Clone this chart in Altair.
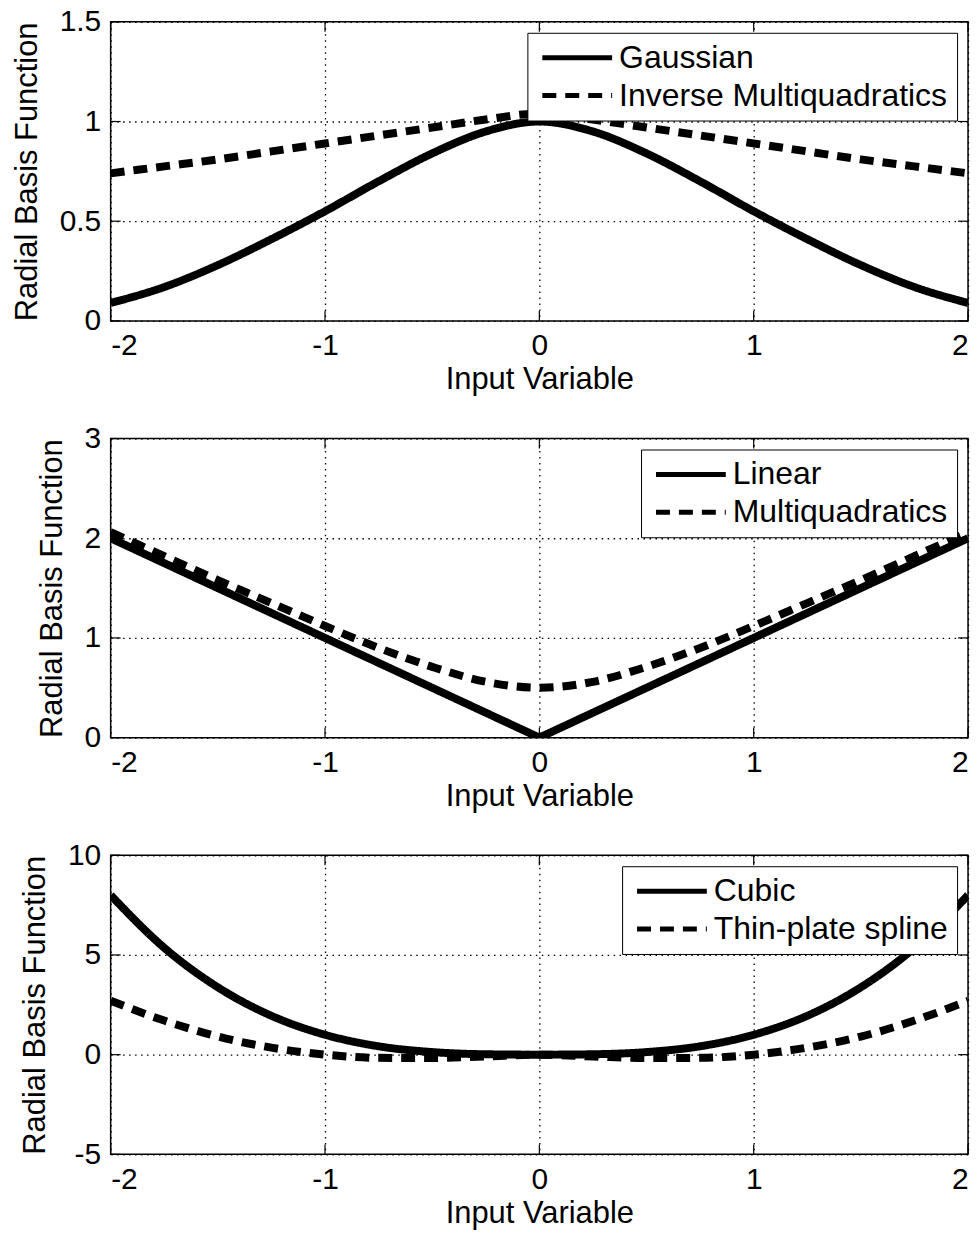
import altair as alt
import pandas as pd

# ---- data ----
x_vals = [-2.0, -1.75, -1.5, -1.25, -1.0, -0.75, -0.5, -0.25, 0.0,
          0.25, 0.5, 0.75, 1.0, 1.25, 1.5, 1.75, 2.0]

gaussian = [0.09, 0.17, 0.28, 0.41, 0.55, 0.70, 0.84, 0.95, 1.00,
            0.95, 0.84, 0.70, 0.55, 0.41, 0.28, 0.17, 0.09]
inverse_mq = [0.74, 0.775, 0.81, 0.85, 0.89, 0.93, 0.97, 1.01, 1.04,
              1.01, 0.97, 0.93, 0.89, 0.85, 0.81, 0.775, 0.74]

linear = [2.0, 1.75, 1.5, 1.25, 1.0, 0.75, 0.5, 0.25, 0.0,
          0.25, 0.5, 0.75, 1.0, 1.25, 1.5, 1.75, 2.0]
multiquad = [2.06, 1.82, 1.58, 1.35, 1.12, 0.90, 0.71, 0.56, 0.50,
             0.56, 0.71, 0.90, 1.12, 1.35, 1.58, 1.82, 2.06]

cubic = [8.0, 5.36, 3.38, 1.95, 1.0, 0.42, 0.13, 0.02, 0.0,
         0.02, 0.13, 0.42, 1.0, 1.95, 3.38, 5.36, 8.0]
thin_plate = [2.7, 1.71, 0.91, 0.35, 0.0, -0.16, -0.17, -0.09, 0.0,
              -0.09, -0.17, -0.16, 0.0, 0.35, 0.91, 1.71, 2.7]

x_ticks = [-2, -1, 0, 1, 2]
y_ticks_1 = [0, 0.5, 1, 1.5]
y_ticks_2 = [0, 1, 2, 3]
y_ticks_3 = [-5, 0, 5, 10]

W, H = 860, 300
FONT = "Liberation Sans"
SOLID = [1, 0]
DASH = [14, 9]
LABEL_EXPR = "'' + datum.value"


def panel(solid_name, solid_vals, dash_name, dash_vals, ydom, yticks, solid_interp, dash_interp):
    df = pd.DataFrame({
        "x": x_vals * 2,
        "y": solid_vals + dash_vals,
        "series": [solid_name] * len(x_vals) + [dash_name] * len(x_vals),
    })
    xaxis = alt.Axis(values=x_ticks, title="Input Variable", labelExpr=LABEL_EXPR)
    yaxis = alt.Axis(values=yticks, title="Radial Basis Function", labelExpr=LABEL_EXPR)
    xscale = alt.Scale(domain=[-2, 2], nice=False, zero=False)
    yscale = alt.Scale(domain=ydom, nice=False, zero=False)
    xenc = alt.X("x:Q", scale=xscale, axis=xaxis)
    yenc = alt.Y("y:Q", scale=yscale, axis=yaxis)
    dash_enc = alt.StrokeDash(
        "series:N",
        scale=alt.Scale(domain=[solid_name, dash_name], range=[SOLID, DASH]),
        legend=alt.Legend(title=None, orient="top-right", offset=11),
    )
    base = alt.Chart(df).encode(x=xenc, y=yenc, strokeDash=dash_enc)
    l1 = base.transform_filter(alt.datum.series == solid_name).mark_line(
        color="black", strokeWidth=8, interpolate=solid_interp, clip=True)
    l2 = base.transform_filter(alt.datum.series == dash_name).mark_line(
        color="black", strokeWidth=8, interpolate=dash_interp, clip=True)

    xt = pd.DataFrame({"x": x_ticks})
    yt = pd.DataFrame({"y": yticks})
    top_t = alt.Chart(xt).mark_rule(color="black", strokeWidth=1.2).encode(
        x=xenc, y=alt.value(0), y2=alt.value(10))
    bot_t = alt.Chart(xt).mark_rule(color="black", strokeWidth=1.2).encode(
        x=xenc, y=alt.value(H - 10), y2=alt.value(H))
    left_t = alt.Chart(yt).mark_rule(color="black", strokeWidth=1.2).encode(
        y=yenc, x=alt.value(0), x2=alt.value(10))
    right_t = alt.Chart(yt).mark_rule(color="black", strokeWidth=1.2).encode(
        y=yenc, x=alt.value(W - 10), x2=alt.value(W))

    return alt.layer(l1, l2, top_t, bot_t, left_t, right_t).properties(width=W, height=H)


p1 = panel("Gaussian", gaussian, "Inverse Multiquadratics", inverse_mq,
           [0, 1.5], y_ticks_1, "monotone", "monotone")
p2 = panel("Linear", linear, "Multiquadratics", multiquad,
           [0, 3], y_ticks_2, "linear", "monotone")
p3 = panel("Cubic", cubic, "Thin-plate spline", thin_plate,
           [-5, 10], y_ticks_3, "monotone", "monotone")

chart = alt.vconcat(p1, p2, p3, spacing=118, bounds="flush").resolve_scale(
    strokeDash="independent"
).resolve_legend(
    strokeDash="independent"
).properties(
    padding={"left": 10, "top": 4, "right": 10, "bottom": 2},
    background="white",
).configure_view(
    stroke="black", strokeWidth=1.5
).configure_axis(
    domain=False, ticks=False, tickSize=0,
    labelFont=FONT, labelFontSize=30, labelColor="black",
    titleFont=FONT, titleFontSize=31, titleColor="black", titleFontWeight="normal",
    grid=True, gridColor="black", gridOpacity=1, gridWidth=1.3, gridDash=[1.5, 4.5],
).configure_axisX(
    labelPadding=10, titlePadding=4,
).configure_axisY(
    labelPadding=10, titlePadding=16,
).configure_legend(
    fillColor="white", strokeColor="black", padding=9,
    labelFont=FONT, labelFontSize=32, labelColor="black", labelOffset=51,
    labelLimit=600,
    symbolType="M -1 0 L 6 0", symbolSize=400, symbolStrokeWidth=5,
    symbolStrokeColor="black", symbolFillColor="transparent", rowPadding=6,
)

chart.save("out.html", embed_options={"renderer": "svg", "actions": False})
